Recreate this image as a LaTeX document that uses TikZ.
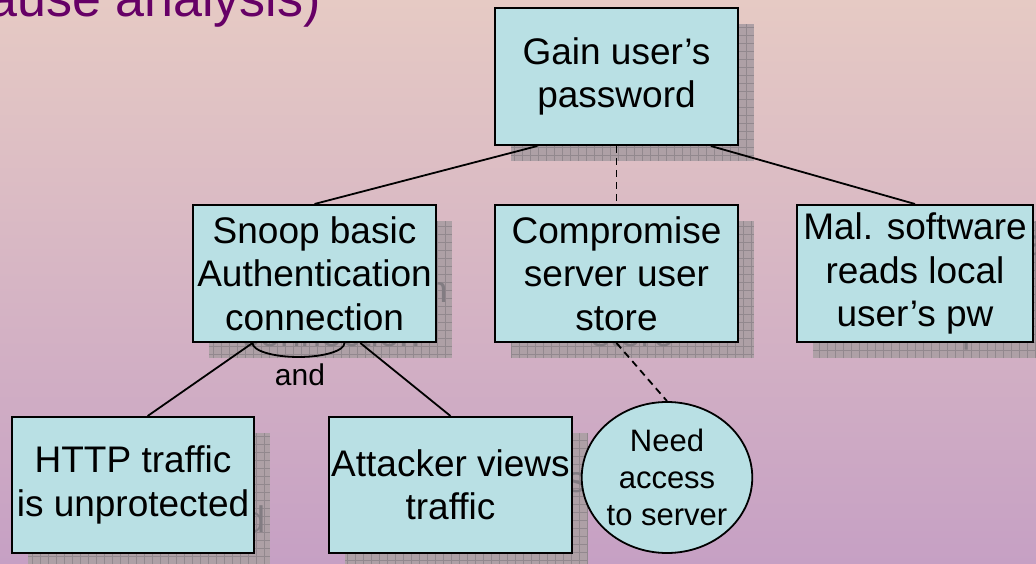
\documentclass[tikz,border=0pt]{standalone}
\usepackage{fontspec}
\setmainfont{Liberation Sans}
\usetikzlibrary{calc,shapes.geometric}

\definecolor{boxcyan}{RGB}{185,224,228}
\definecolor{bgtop}{RGB}{230,202,196}
\definecolor{bgbottom}{RGB}{198,160,196}
\definecolor{titlepurple}{RGB}{102,0,102}
\definecolor{shadowfill}{RGB}{174,160,166}
\definecolor{shadowgrid}{RGB}{146,136,142}
\definecolor{shadowtext}{RGB}{130,124,130}

\tikzset{
	goalbox/.style={draw=black, line width=2pt, fill=boxcyan, minimum width=243pt, minimum height=137pt,
		inner sep=0pt, align=center, font=\fontsize{37}{43.5}\selectfont},
	goalshadow/.style={goalbox, draw=none, fill=shadowfill, text=shadowtext,
		path picture={\draw[shadowgrid, line width=0.7pt] (path picture bounding box.south west) grid[step=8pt] (path picture bounding box.north east);}},
	link/.style={line width=1.8pt},
	dashlink/.style={link, dash pattern=on 7pt off 5pt},
}

\begin{document}
\begin{tikzpicture}[x=1pt, y=-1pt]
			%%%%% BACKGROUND %%%%%
			\useasboundingbox (0,0) rectangle (1036,564);
			\clip (0,0) rectangle (1036,564);
			\shade[top color=bgtop, bottom color=bgbottom] (0,0) rectangle (1036,564);
			
			\node[anchor=base west, inner sep=0pt, text=titlepurple, font=\fontsize{52}{60}\selectfont] (title) at (-12,17) {ause analysis)};
			
			%%%%% SHADOWS %%%%%
			\node[goalshadow] (gainS) at (632.5,92.5) {Gain user’s\\password};
			\node[goalshadow] (snoopS) at (330.5,289.5) {Snoop basic\\Authentication\\connection};
			\node[goalshadow] (compromiseS) at (632.5,289.5) {Compromise\\server user\\store};
			\node[goalshadow, minimum width=236pt] (malwareS) at (931,289.5) {Mal. software\\reads local\\user’s pw};
			\node[goalshadow, minimum width=242pt, minimum height=136pt] (httpS) at (149,501) {HTTP traffic\\is unprotected};
			\node[goalshadow, minimum height=136pt] (attackerS) at (466.5,501) {Attacker views\\traffic};
			
			%%%%% GOALS %%%%%
			\node[goalbox] (gain) at (616.5,76.5) {Gain user’s\\password};
			\node[goalbox] (snoop) at (314.5,273.5) {Snoop basic\\Authentication\\connection};
			\node[goalbox] (compromise) at (616.5,273.5) {Compromise\\server user\\store};
			\node[goalbox, minimum width=236pt] (malware) at (915,273.5) {Mal. software\\reads local\\user’s pw};
			\node[goalbox, minimum width=242pt, minimum height=136pt] (http) at (133,485) {HTTP traffic\\is unprotected};
			\node[goalbox, minimum height=136pt] (attacker) at (450.5,485) {Attacker views\\traffic};
			\node[ellipse, draw=black, line width=1.8pt, fill=boxcyan, minimum width=162pt, minimum height=151pt,
				inner sep=0pt, align=center, font=\fontsize{31}{37}\selectfont] (access) at (667,477.5) {Need\\access\\to server};
			
			%%%%% LINKS %%%%%
			\draw[link] ($(gain.south west)!0.177!(gain.south east)$) -- (snoop.north);
			\draw[link] ($(gain.south west)!0.885!(gain.south east)$) -- (malware.north);
			\draw[dashlink] (gain.south) -- (compromise.north);
			
			\draw[link] ($(snoop.south west)!0.247!(snoop.south east)$) coordinate (andL) -- ($(http.north west)!0.56!(http.north east)$);
			\draw[link] ($(snoop.south west)!0.687!(snoop.south east)$) -- (attacker.north);
			\draw[link] (andL) arc[start angle=180, end angle=0, x radius=46, y radius=14];
			\node[anchor=base, inner sep=0pt, font=\fontsize{30}{36}\selectfont] (andlabel) at (300,385) {and};
			
			\draw[dashlink] (compromise.south) -- (access.north);
			
			%%%%% END %%%%%
\end{tikzpicture}
\end{document}
